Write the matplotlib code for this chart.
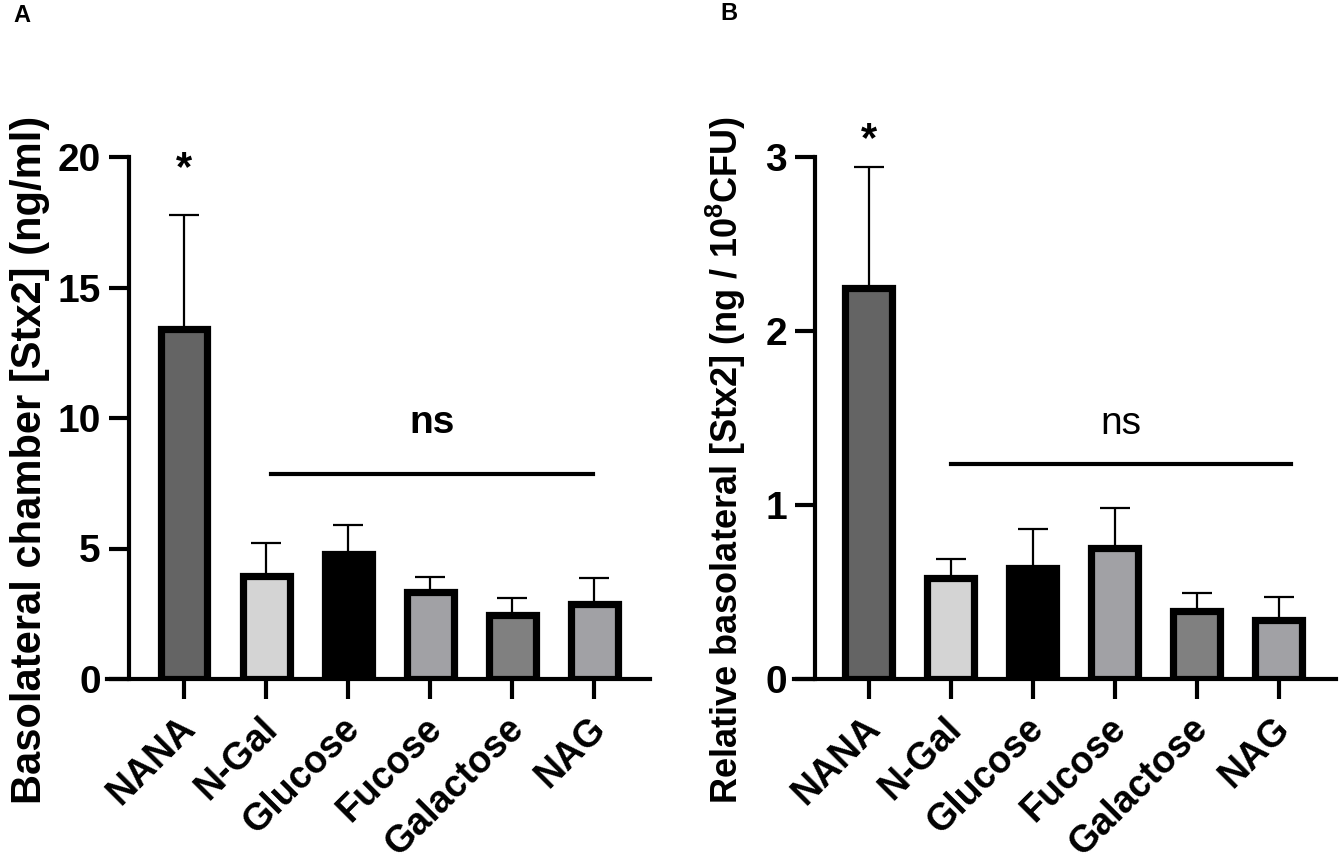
import matplotlib
matplotlib.use("Agg")
import matplotlib.pyplot as plt
import matplotlib.transforms as mtransforms
import numpy as np

plt.rcParams['font.family'] = ['Liberation Sans', 'DejaVu Sans']
plt.rcParams['mathtext.fontset'] = 'custom'
plt.rcParams['mathtext.rm'] = 'Liberation Sans:bold'
plt.rcParams['mathtext.bf'] = 'Liberation Sans:bold'
plt.rcParams['mathtext.default'] = 'bf'

categories = ["NANA", "N-Gal", "Glucose", "Fucose", "Galactose", "NAG"]
colors = ["#646464", "#d4d4d4", "#000000", "#a1a1a5", "#808080", "#a1a1a5"]

a_means = [13.4, 3.96, 4.79, 3.34, 2.45, 2.86]
a_err = [4.37, 1.26, 1.10, 0.56, 0.67, 1.01]
a_yticks = [0, 5, 10, 15, 20]

b_means = [2.25, 0.58, 0.64, 0.755, 0.39, 0.34]
b_err = [0.69, 0.11, 0.22, 0.225, 0.105, 0.13]
b_yticks = [0, 1, 2, 3]

W, H = 1344, 867
fig = plt.figure(figsize=(W / 100, H / 100), dpi=100)


def px_axes(left, right, bottom, top):
    return fig.add_axes([left / W, 1 - bottom / H, (right - left) / W, (bottom - top) / H])


def panel(ax, means, errs, yticks, ymax, yaxis_x, xlim, ylabel, ns_y, ns_text_y, ns_x0, ns_x1,
          ns_bold, star_y, label_size):
    x = np.arange(len(categories))
    ax.errorbar(x, means, yerr=[np.zeros(len(means)), errs], fmt='none', ecolor='black',
                elinewidth=1.6, capsize=11, capthick=1.6, zorder=1)
    ax.bar(x, means, width=0.57, color=colors, edgecolor='black', linewidth=5.2, zorder=2)
    ax.set_xlim(*xlim)
    ax.set_ylim(0, ymax)
    for s in ['top', 'right']:
        ax.spines[s].set_visible(False)
    ax.spines['left'].set_position(('data', yaxis_x))
    ax.spines['left'].set_bounds(0, ymax)
    ax.spines['left'].set_linewidth(3)
    ax.spines['bottom'].set_linewidth(3)
    ax.spines['left'].set_zorder(3)
    ax.spines['bottom'].set_zorder(3)
    ax.set_yticks(yticks)
    ax.set_yticklabels([str(t) for t in yticks], fontsize=28, fontweight='bold')
    ax.tick_params(axis='y', length=14.5, width=3, pad=6)
    ax.tick_params(axis='x', length=14.5, width=3, pad=17)
    ax.set_xticks(x)
    ax.set_xticklabels(categories, rotation=45, ha='right', va='center',
                       rotation_mode='anchor', fontsize=27, fontweight='bold')
    shift = mtransforms.ScaledTranslation(6 / 100, 0, fig.dpi_scale_trans)
    for lab in ax.get_xticklabels():
        lab.set_transform(lab.get_transform() + shift)
    ax.set_ylabel(ylabel, fontsize=label_size, fontweight='bold')
    ax.patch.set_alpha(0)
    ax.plot([ns_x0, ns_x1], [ns_y, ns_y], color='black', lw=3, clip_on=False)
    ax.text((ns_x0 + ns_x1) / 2, ns_text_y, "ns", ha='center', va='baseline', fontsize=28,
            fontweight='bold' if ns_bold else 'normal', clip_on=False)
    ax.text(0, star_y, "*", ha='center', va='center', fontsize=30, fontweight='bold', clip_on=False)


# Panel A: x-axis from px 107 to 650, y 0 at px 679, 20 at px 157
axA = px_axes(107, 650, 679, 157)
panel(axA, a_means, a_err, a_yticks, 20, -0.67, (-0.94, 5.68),
      "Basolateral chamber [Stx2] (ng/ml)", 7.85, 9.43, 1.06, 4.98, True, 19.55, 30)
axA.yaxis.set_label_coords((50 - 107) / 543, 0.42)

# Panel B: x-axis from px 794 to 1336
axB = px_axes(794, 1336, 679, 157)
panel(axB, b_means, b_err, b_yticks, 3, -0.65, (-0.91, 5.70),
      "Relative basolateral [Stx2] (ng / 10$^{8}$CFU)", 1.236, 1.41, 1.0, 5.15, False, 3.1, 26)
axB.yaxis.set_label_coords((748 - 794) / 542, 0.42)

fig.text(22 / W, 1 - 16 / H, "A", ha='center', va='center', fontsize=17, fontweight='bold')
fig.text(729 / W, 1 - 14 / H, "B", ha='center', va='center', fontsize=17, fontweight='bold')

fig.savefig("out.png", dpi=100)
